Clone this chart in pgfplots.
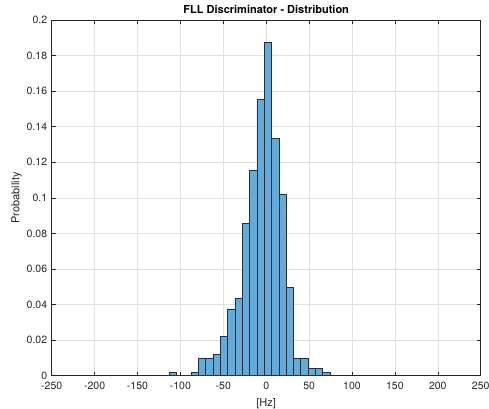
\documentclass[border=0pt]{standalone}
\usepackage{pgfplots}
\pgfplotsset{compat=1.18}
\usepackage{fontspec}
\setmainfont{TeX Gyre Heros}
\definecolor{barfill}{RGB}{102,170,215}
\definecolor{baredge}{RGB}{36,46,60}
\definecolor{axgray}{RGB}{38,38,38}
\begin{document}
\begin{tikzpicture}
\path[use as bounding box] (0,0) rectangle (489pt,408pt);
\begin{axis}[
  at={(51.7pt,32.3pt)}, anchor=south west,
  scale only axis, width=429pt, height=355.7pt,
  xmin=-250, xmax=250, ymin=0, ymax=0.2,
  xtick={-250,-200,-150,-100,-50,0,50,100,150,200,250},
  ytick={0,0.02,0.04,0.06,0.08,0.1,0.12,0.14,0.16,0.18,0.2},
  yticklabels={0,0.02,0.04,0.06,0.08,0.1,0.12,0.14,0.16,0.18,0.2},
  xticklabels={-250,-200,-150,-100,-50,0,50,100,150,200,250},
  tick align=inside, major tick length=4pt,
  grid=major, grid style={color=black!12, line width=0.5pt},
  axis line style={axgray, line width=0.5pt},
  tick style={axgray, line width=0.5pt},
  ticklabel style={font=\fontsize{10.5}{12}\selectfont, color=axgray},
  xticklabel style={yshift=-2.5pt},
  yticklabel style={xshift=-1pt},
  /pgf/number format/assume math mode=true,
  title={FLL Discriminator - Distribution},
  title style={font=\fontsize{11}{13}\selectfont\bfseries, yshift=-3pt},
  xlabel={[Hz]}, ylabel={Probability},
  xlabel style={font=\fontsize{11}{13}\selectfont, color=axgray, yshift=-2pt},
  ylabel style={font=\fontsize{11}{13}\selectfont, color=axgray, yshift=-2pt},
]
\addplot[ybar interval, fill=barfill, draw=baredge, line width=0.5pt] coordinates {
(-113.3,0.002)
(-104.77,0)
(-96.24,0)
(-87.71,0.002)
(-79.18,0.010)
(-70.65,0.010)
(-62.12,0.012)
(-53.59,0.022)
(-45.06,0.0376)
(-36.53,0.0437)
(-28.00,0.0858)
(-19.47,0.1156)
(-10.94,0.1555)
(-2.41,0.1873)
(6.12,0.1336)
(14.65,0.102)
(23.18,0.0498)
(31.71,0.010)
(40.24,0.010)
(48.77,0.004)
(57.30,0.004)
(65.83,0.002)
(74.36,0.002)
};
\end{axis}
\end{tikzpicture}
\end{document}
